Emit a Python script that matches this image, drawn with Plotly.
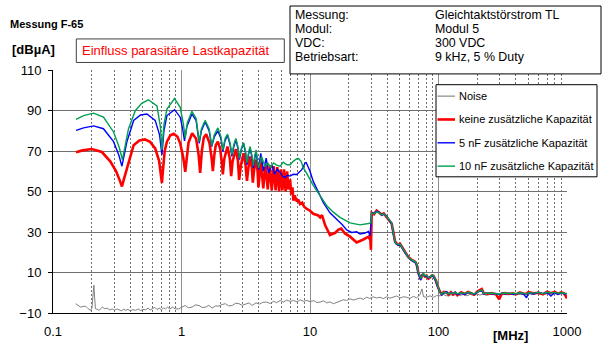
import plotly.graph_objects as go

# ---------------- data (frequency in MHz, level in dBµA) ----------------
noise_f = [0.150,0.157,0.164,0.171,0.179,0.187,0.196,0.201,0.205,0.208,0.211,0.214,
           0.221,0.228,0.235,0.242,0.253,0.264,0.276,0.289,0.302,
           0.315,0.326,0.341,0.356,0.367,0.383,0.40,0.42,0.439,0.46,0.48,0.50,
           0.525,0.55,0.57,0.59,0.62,0.645,0.67,0.70,0.725,0.75,0.78,0.81,0.85,0.89,0.95,1.0,
           1.07,1.13,1.21,1.28,1.37,1.45,1.54,1.63,1.73,1.84,1.96,2.07,2.2,2.33,2.48,2.63,2.8,2.97,3.15,3.35,3.55,
           3.8,4.05,4.3,4.59,4.9,5.2,5.5,5.86,6.2,6.6,7.0,7.43,7.9,8.4,8.9,9.45,
           10.0,10.7,11.3,12.0,12.8,13.5,14.3,15.2,16.2,17.2,18.2,19.3,20.5,21.8,23.1,24.5,26.0,27.5,29.2,
           31.0,33.0,35.0,37.2,39.5,41.9,44.5,47.3,50.2,53.3,56.5,60.0,63.7,67.7,71.7,74.3,76.5,80.9,85.9,91.2,96.7,
           103,109,116,123,130,138,147,156,166,176,187,198,210,223,237,252,267,284,301,320,340,361,383,407,432,
           459,487,517,549,583,619,657,698,741,787,836,888,943,1000]
noise_db = [-5.4,-6.2,-7.1,-6.8,-6.6,-7.8,-8.7,-7.5,-2.0,3.8,-2.5,-7.9,
            -8.2,-8.7,-7.9,-7.1,-7.9,-7.6,-8.5,-8.0,-8.6,
            -8.0,-8.4,-8.9,-8.1,-8.7,-8.2,-8.9,-8.3,-8.7,-8.0,-8.8,-8.2,
            -8.4,-7.6,-8.5,-8.0,-7.2,-8.3,-7.6,-8.4,-7.5,-8.0,-7.0,-8.1,-7.1,-7.9,-8.0,-7.2,
            -6.3,-7.4,-7.1,-6.0,-6.3,-7.3,-7.1,-6.2,-7.6,-6.5,-6.6,-5.8,-5.4,-6.5,-6.3,-5.2,-5.4,-6.2,-5.8,-5.0,-6.3,
            -5.0,-5.6,-4.7,-4.6,-5.3,-4.2,-4.9,-3.8,-4.6,-3.6,-4.3,-3.8,-4.5,-3.5,-4.2,-3.8,
            -4.4,-3.9,-4.8,-4.6,-4.0,-5.0,-4.5,-5.4,-4.6,-4.2,-3.5,-3.8,-3.0,-3.6,-3.0,-2.6,-3.3,-2.2,-2.8,
            -2.0,-2.6,-2.2,-2.9,-2.0,-2.7,-2.2,-1.6,-2.6,-2.0,-2.2,-2.8,-1.8,-2.5,-1.0,1.9,-2.0,-2.2,-1.5,-2.3,-1.4,
            -1.5,-0.8,-1.6,-1.0,-1.4,-0.7,-1.3,-0.9,-1.5,-0.8,-1.2,-0.6,-1.1,-0.7,-1.3,-0.8,-1.0,-0.5,-1.2,-0.7,-1.0,-0.4,-1.1,-0.6,-0.9,
            -0.3,-1.0,-0.5,-0.8,-0.2,-0.9,-0.4,-0.7,-0.1,-0.8,-0.3,-0.6,-0.2,-0.7]

red_f = [0.151,0.17,0.2,0.24,0.279,0.31,0.333,0.344,0.356,0.376,0.40,0.424,0.47,0.52,0.57,0.624,0.67,0.694,0.704,0.716,
         0.74,0.77,0.82,0.87,0.93,0.977,1.03,1.07,1.10,1.133,1.21,1.30,1.36,1.397,1.44,1.49,1.556,1.65,1.72,1.754,
         1.80,1.85,1.919,2.0,2.06,2.098,2.15,2.28,2.38,2.435,2.50,2.65,2.75,2.81,2.90,3.04,3.15,3.23,3.32,3.42,
         3.52,3.59,3.68,3.81,3.91,3.97,4.15,4.33,4.5,4.69,4.86,5.04,5.22,5.40,5.57,5.75,5.93,6.10,6.28,6.46,
         6.64,6.80,7.0,7.15,7.3,7.43,7.6,7.9,8.1,8.37,8.7,9.0,9.45,10.0,10.6,11.6,12.0,12.4,13.1,13.8,
         14.3,15.7,16.7,17.5,18.7,20.5,23.1,26.0,28.5,29.5,29.8,30.2]
red_db = [69.4,70.3,71.0,69.5,64.9,60.0,55.0,52.5,56.0,61.6,68.0,72.9,75.2,75.7,74.5,71.3,65.0,57.0,54.2,60.0,
          70.0,74.6,77.8,78.5,77.0,73.8,67.0,59.7,67.0,74.0,78.8,76.0,68.0,59.2,70.0,76.5,78.3,74.0,66.0,60.0,
          68.0,73.0,74.6,71.0,64.0,58.4,66.0,72.2,66.0,57.6,65.0,70.9,65.0,55.7,63.0,68.9,63.0,55.2,62.0,67.3,
          62.0,54.4,61.0,65.7,60.0,52.0,64.5,51.5,63.5,51.0,63.0,50.5,62.5,50.5,62.0,50.0,61.0,50.5,61.0,50.0,
          60.0,51.0,56.0,48.5,52.0,45.5,48.0,45.0,46.0,43.8,44.5,42.5,41.4,40.5,39.0,38.2,37.2,38.3,33.4,30.0,
          28.5,29.6,31.2,31.7,29.3,27.7,24.8,26.3,27.7,26.0,21.2,39.5]

blue_f = [0.151,0.173,0.207,0.247,0.296,0.325,0.344,0.36,0.376,0.424,0.48,0.538,0.624,0.675,0.704,0.73,0.77,0.883,0.977,1.02,
          1.055,1.10,1.205,1.30,1.373,1.43,1.527,1.64,1.72,1.80,1.919,2.03,2.098,2.18,2.28,2.39,2.466,2.55,2.65,2.75,
          2.825,2.93,3.04,3.15,3.23,3.33,3.42,3.53,3.63,3.72,3.81,3.97,4.14,4.34,4.56,4.75,5.05,5.3,5.55,5.86,
          6.1,6.4,6.7,7.0,7.4,7.89,8.3,8.63,8.9,9.16,9.35,10.0,10.6,11.6,12.7,14.3,16.2,17.7,19.3,21.1,
          23.1,24.5,26.8,28.5,29.3,30.2]
blue_db = [80.2,81.4,82.4,81.0,74.6,68.0,62.5,68.0,74.6,85.1,87.8,88.3,85.1,78.0,68.1,80.0,87.5,90.4,86.7,81.0,
           75.0,82.0,88.3,85.0,73.8,80.0,84.3,80.0,72.2,77.0,79.9,76.0,69.7,75.0,77.8,73.0,67.3,72.0,75.7,71.0,
           65.7,71.0,73.8,69.0,63.2,68.5,71.3,67.0,61.6,66.5,69.7,60.8,68.9,60.0,66.5,59.2,63.2,58.5,61.0,59.5,
           57.5,57.0,58.0,57.6,58.5,58.4,59.8,60.8,62.5,64.1,64.3,60.0,55.0,50.0,44.5,39.5,36.2,33.8,31.0,29.8,
           30.1,29.0,29.5,30.3,28.0,39.5]

green_f = [0.151,0.173,0.207,0.247,0.296,0.327,0.347,0.365,0.387,0.437,0.49,0.553,0.644,0.685,0.704,0.73,0.77,0.883,0.977,1.03,
           1.07,1.11,1.205,1.30,1.373,1.43,1.527,1.64,1.72,1.80,1.919,2.03,2.098,2.18,2.28,2.39,2.466,2.55,2.65,2.75,
           2.825,2.93,3.04,3.15,3.23,3.33,3.42,3.53,3.63,3.72,3.81,3.97,4.2,4.45,4.7,4.95,5.2,5.5,5.86,6.2,
           6.6,7.0,7.4,7.9,8.13,8.5,8.9,9.45,10.6,12.0,13.5,15.2,17.1,20.5,24.5,28.5,29.8,30.2]
green_db = [85.6,87.5,88.7,86.7,79.4,72.0,65.7,73.0,81.0,89.9,93.5,95.3,92.3,82.0,70.5,83.0,90.7,95.9,91.6,84.0,
            76.5,84.0,89.6,86.0,74.6,81.0,85.1,81.0,72.5,78.0,81.4,77.0,70.5,76.0,78.3,74.0,68.1,73.0,76.2,72.0,
            66.5,71.5,74.1,70.0,64.1,69.5,72.2,68.0,62.8,68.0,70.5,61.6,67.3,62.5,64.0,62.0,64.1,63.0,62.5,64.5,
            63.2,63.2,64.9,66.2,66.3,65.0,61.5,58.8,53.0,47.8,43.0,39.8,37.2,34.5,33.5,34.2,34.5,39.5]

# common frequency points above 30 MHz, one level list per curve
tail_f = [31.5,33.0,34.5,36.1,37.5,39.5,41.5,43.2,44.5,45.9,47.0,48.7,50.2,51.5,53.2,55.5,58.2,61.0,63.7,66.0,
          67.6,69.7,72.8,74.5,76.2,78.5,80.9,83.5,85.9,88.5,91.2,93.5,95.7,97.5,99.6,102.5,105.9,110,115.8,120,
          125,130,135,140,150,160,170,180,190,200,217,225,240,260,280,297,310,330,350,380,
          400,430,460,485,500,550,600,650,700,750,800,850,900,950,1000]
red_tail_db = [38.8,40.6,39.5,38.6,39.2,37.4,36.0,34.2,30.0,25.3,24.5,23.7,24.2,23.0,21.2,19.5,17.6,16.5,15.6,15.2,
               14.0,9.9,6.7,8.5,9.1,8.0,8.4,7.0,7.5,8.5,8.4,7.0,5.9,4.0,2.6,0.5,-0.6,0.4,0.2,-1.0,
               0.3,-0.8,0.0,-1.2,0.2,-0.6,0.4,-0.5,-1.0,0.6,1.8,-0.3,-0.5,-0.2,-0.8,-3.2,-0.5,-0.2,-0.6,-0.3,
               -0.8,0.2,-0.5,-0.4,0.3,-0.3,0.0,-0.8,0.5,-0.2,0.4,-0.5,0.2,-0.3,-2.8]
blue_tail_db = [39.2,40.2,39.8,38.2,38.8,37.8,35.6,34.0,29.0,24.8,24.0,23.5,23.8,22.6,21.0,19.2,17.8,16.2,15.4,15.0,
                13.6,9.5,6.2,8.8,9.3,8.2,8.0,7.3,7.8,8.2,8.0,6.6,5.5,3.6,2.2,0.0,-1.2,-0.2,0.5,-0.6,
                -0.2,-0.5,0.4,-0.8,-0.3,-0.9,0.1,-0.2,-0.8,0.2,1.2,-0.6,-0.2,-0.5,-0.4,-0.9,-0.2,-0.6,-0.2,-0.7,
                -0.4,-0.2,-0.8,-2.5,-0.1,-0.6,0.3,-0.4,0.1,-1.6,0.1,-0.8,-0.1,-0.6,-0.4]
green_tail_db = [39.0,40.0,39.6,38.4,39.0,37.6,35.8,34.5,29.5,25.0,24.2,23.8,24.0,22.8,21.2,19.4,17.5,16.4,15.7,15.3,
                 14.2,10.2,7.0,8.6,9.6,8.4,8.6,7.4,7.6,8.7,8.6,7.2,6.0,4.2,2.8,0.2,-0.8,0.2,-0.1,-0.6,
                 0.0,-0.4,0.2,-0.5,0.0,-0.4,0.2,-0.2,-0.6,0.3,1.4,-0.4,-0.3,-0.1,-0.5,-0.6,-0.3,-0.1,-0.4,-0.2,
                 -0.5,0.0,-0.3,-0.6,0.0,-0.2,0.2,-0.5,0.3,-0.1,0.2,-0.3,0.0,-0.2,-0.5]

series_names = ["Noise", "keine zusätzliche Kapazität", "5 nF zusätzliche Kapazität", "10 nF zusätzliche Kapazität"]
series_colors = ["#a0a0a0", "#ff0000", "#0000ff", "#00a050"]
x_tick_vals = [0.1, 1, 10, 100, 1000]
x_tick_text = ["0.1", "1", "10", "100", "1000"]
y_tick_vals = [-10, 10, 30, 50, 70, 90, 110]

info_labels = ["Messung:", "Modul:", "VDC:", "Betriebsart:"]
info_values = ["Gleichtaktstörstrom TL", "Modul 5", "300 VDC", "9 kHz, 5 % Duty"]

# ---------------- figure ----------------
W, H = 604, 351
ML, MR, MT, MB = 53, 37, 70, 33
PW, PH = W - ML - MR, H - MT - MB
FONT = "Arial, Liberation Sans, sans-serif"


def px(x):
    return (x - ML) / PW


def py(y):
    return 1 - (y - MT) / PH


fig = go.Figure()
fig.add_trace(go.Scatter(x=noise_f, y=noise_db, mode="lines", name=series_names[0],
                         line=dict(color="#808080", width=1), showlegend=False))
fig.add_trace(go.Scatter(x=red_f + tail_f, y=red_db + red_tail_db, mode="lines", name=series_names[1],
                         line=dict(color=series_colors[1], width=2.6), showlegend=False))
fig.add_trace(go.Scatter(x=blue_f + tail_f, y=blue_db + blue_tail_db, mode="lines", name=series_names[2],
                         line=dict(color=series_colors[2], width=1.4), showlegend=False))
fig.add_trace(go.Scatter(x=green_f + tail_f, y=green_db + green_tail_db, mode="lines", name=series_names[3],
                         line=dict(color=series_colors[3], width=1.4), showlegend=False))

minor_vals = [k * 10 ** e for e in range(-1, 3) for k in range(2, 10)]

fig.update_layout(
    width=W, height=H, margin=dict(l=ML, r=MR, t=MT, b=MB),
    paper_bgcolor="white", plot_bgcolor="white",
    font=dict(family=FONT, size=13, color="black"),
    xaxis=dict(type="log", range=[-1, 3], tickvals=x_tick_vals, ticktext=x_tick_text,
               showgrid=True, gridcolor="#909090", gridwidth=1,
               minor=dict(tickvals=minor_vals, showgrid=True, gridcolor="#707070",
                          griddash="2px,2px", gridwidth=1),
               showline=True, linecolor="black", linewidth=1, ticks="", zeroline=False,
               ticklabelstandoff=6, tickfont=dict(size=13)),
    yaxis=dict(range=[-10, 110], tickvals=y_tick_vals, showgrid=True, gridcolor="#707070", gridwidth=1,
               showline=True, linecolor="black", linewidth=1, ticks="outside", ticklen=4,
               tickcolor="black", zeroline=False, ticklabelstandoff=4, tickfont=dict(size=13)),
    showlegend=False,
)

shapes = []
annotations = []
# title texts
annotations.append(dict(text="<b>Messung F-65</b>", x=px(8), y=py(22.7), xref="paper", yref="paper",
                        xanchor="left", yanchor="middle", showarrow=False, font=dict(size=11)))
annotations.append(dict(text="<b>[dBµA]</b>", x=px(10), y=py(49), xref="paper", yref="paper",
                        xanchor="left", yanchor="middle", showarrow=False, font=dict(size=13)))
annotations.append(dict(text="<b>[MHz]</b>", x=px(510), y=py(341), xref="paper", yref="paper",
                        xanchor="center", yanchor="middle", showarrow=False, font=dict(size=13)))
# red subtitle box
shapes.append(dict(type="rect", xref="paper", yref="paper", x0=px(76.3), x1=px(284.3), y0=py(62.3), y1=py(38.3),
                   line=dict(color="#404040", width=1), fillcolor="white", layer="above"))
annotations.append(dict(text="Einfluss parasitäre Lastkapazität", x=px(79.5), y=py(50), xref="paper", yref="paper",
                        xanchor="left", yanchor="middle", showarrow=False, font=dict(size=13, color="#ff0000")))
# info box
shapes.append(dict(type="rect", xref="paper", yref="paper", x0=px(290), x1=px(601), y0=py(74), y1=py(4.7),
                   line=dict(color="black", width=1), fillcolor="white", layer="above"))
for i, (lab, val) in enumerate(zip(info_labels, info_values)):
    yy = 14.3 + i * 14.3
    annotations.append(dict(text=lab, x=px(292.5), y=py(yy), xref="paper", yref="paper",
                            xanchor="left", yanchor="middle", showarrow=False, font=dict(size=12.4)))
    annotations.append(dict(text=val, x=px(432.5), y=py(yy), xref="paper", yref="paper",
                            xanchor="left", yanchor="middle", showarrow=False, font=dict(size=12.4)))
# legend box
shapes.append(dict(type="rect", xref="paper", yref="paper", x0=px(436), x1=px(597), y0=py(179), y1=py(85),
                   line=dict(color="black", width=1), fillcolor="white", layer="above"))
legend_widths = [1.5, 2.6, 1.4, 1.4]
for i, (nm, col) in enumerate(zip(series_names, series_colors)):
    yy = 96.7 + i * 23.8
    shapes.append(dict(type="line", xref="paper", yref="paper", x0=px(437.5), x1=px(455), y0=py(yy), y1=py(yy),
                       line=dict(color=col, width=legend_widths[i]), layer="above"))
    annotations.append(dict(text=nm, x=px(456.5), y=py(yy), xref="paper", yref="paper",
                            xanchor="left", yanchor="middle", showarrow=False, font=dict(size=11)))

fig.update_layout(shapes=shapes, annotations=annotations)
fig.write_html("out.html")
